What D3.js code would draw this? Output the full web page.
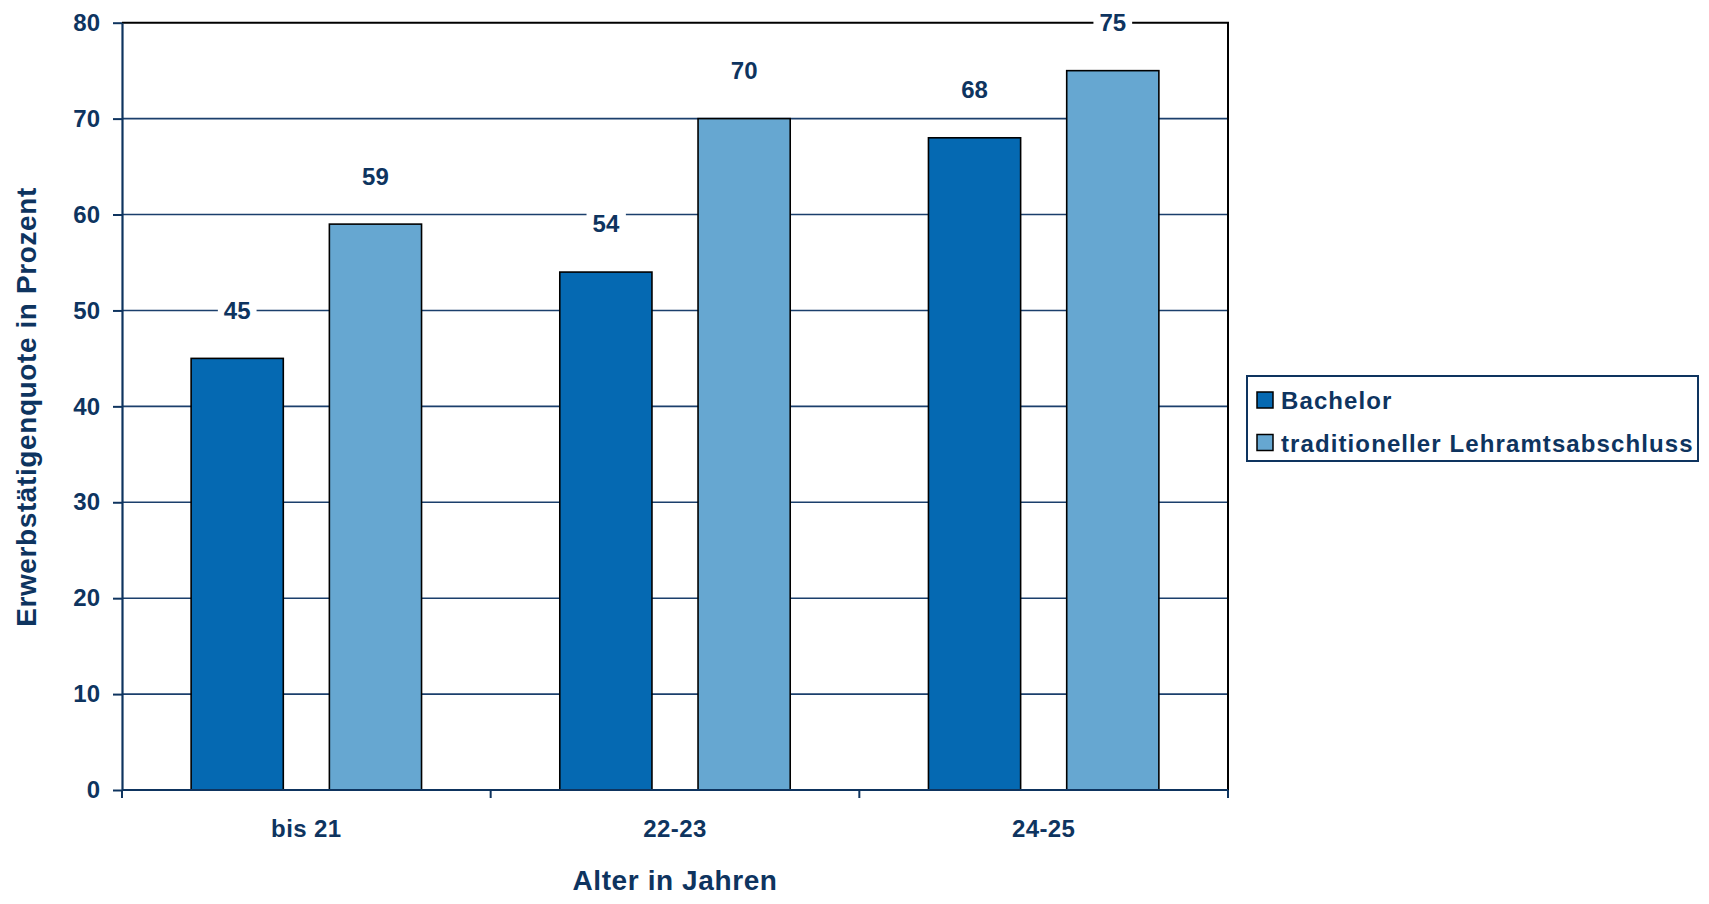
<!DOCTYPE html>
<html>
<head>
<meta charset="utf-8">
<script src="https://cdn.jsdelivr.net/npm/d3@7"></script>
<style>
    body { margin: 0; background: #fff; }
    svg text { font-family: "Liberation Sans", Arial, sans-serif; font-weight: bold; fill: #0e345f; }
</style>
</head>
<body>
<div id="chart"></div>
<script>
var categories = ['bis 21', '22-23', '24-25'];
var seriesNames = ['Bachelor', 'traditioneller Lehramtsabschluss'];
var bachelor = [45, 54, 68];
var traditionell = [59, 70, 75];
var yTicks = [0, 10, 20, 30, 40, 50, 60, 70, 80];

var colors = ['#0569b2', '#66a7d1'];
var navy = '#0e345f';
var W = 1709, H = 904;
var plot = { left: 122, right: 1228, top: 22.7, bottom: 790 };

var svg = d3.select('#chart').append('svg')
    .attr('width', W).attr('height', H);

var y = d3.scaleLinear().domain([0, 80]).range([plot.bottom, plot.top]);
var x0 = d3.scaleBand().domain(categories).range([plot.left, plot.right]);
var x1 = d3.scaleBand().domain(seriesNames).range([0, x0.bandwidth()])
    .paddingInner(1 / 3).paddingOuter(0.5);

// gridlines
svg.append('g').selectAll('line')
    .data(yTicks.filter(function(t) { return t > 0 && t < 80; }))
    .enter().append('line')
    .attr('x1', plot.left).attr('x2', plot.right)
    .attr('y1', function(d) { return y(d); }).attr('y2', function(d) { return y(d); })
    .attr('stroke', '#1b3f6c').attr('stroke-width', 1.6);

// top/right frame
svg.append('path')
    .attr('d', 'M' + plot.left + ',' + y(80) + 'H' + plot.right + 'V' + plot.bottom)
    .attr('fill', 'none').attr('stroke', '#000').attr('stroke-width', 2);

// bars
var rows = categories.map(function(c, i) {
    return { cat: c, vals: [bachelor[i], traditionell[i]] };
});

var groups = svg.append('g').selectAll('g')
    .data(rows).enter().append('g')
    .attr('transform', function(d) { return 'translate(' + x0(d.cat) + ',0)'; });

groups.selectAll('rect')
    .data(function(d) { return d.vals.map(function(v, j) { return { name: seriesNames[j], v: v, j: j }; }); })
    .enter().append('rect')
    .attr('x', function(d) { return x1(d.name); })
    .attr('width', x1.bandwidth())
    .attr('y', function(d) { return y(d.v); })
    .attr('height', function(d) { return y(0) - y(d.v); })
    .attr('fill', function(d) { return colors[d.j]; })
    .attr('stroke', '#000').attr('stroke-width', 1.6);

// value labels with white box behind
var labels = groups.selectAll('g.lbl')
    .data(function(d) { return d.vals.map(function(v, j) { return { name: seriesNames[j], v: v }; }); })
    .enter().append('g').attr('class', 'lbl')
    .attr('transform', function(d) {
        return 'translate(' + (x1(d.name) + x1.bandwidth() / 2) + ',' + (y(d.v) - 48) + ')';
    });
labels.append('rect').attr('fill', '#fff');
labels.append('text')
    .attr('text-anchor', 'middle').attr('dy', '0.35em')
    .style('font-size', '24px')
    .text(function(d) { return d.v; });
labels.each(function() {
    var g = d3.select(this);
    var bb = g.select('text').node().getBBox();
    g.select('rect').attr('x', bb.x - 6).attr('y', bb.y).attr('width', bb.width + 12).attr('height', bb.height);
});

// y axis
var yAxis = svg.append('g')
    .attr('transform', 'translate(' + plot.left + ',0)')
    .call(d3.axisLeft(y).tickValues(yTicks).tickSize(9).tickPadding(13).tickSizeOuter(0));
yAxis.select('.domain').attr('stroke', navy).attr('stroke-width', 2.2);
yAxis.selectAll('.tick line').attr('stroke', navy).attr('stroke-width', 2);
yAxis.selectAll('.tick text').style('font-size', '24px').attr('fill', navy);

// x axis
var xg = svg.append('g');
xg.append('line')
    .attr('x1', plot.left).attr('x2', plot.right)
    .attr('y1', plot.bottom).attr('y2', plot.bottom)
    .attr('stroke', navy).attr('stroke-width', 2.2);
var bounds = categories.map(function(c) { return x0(c); }).concat([plot.right]);
xg.selectAll('line.tk').data(bounds).enter().append('line').attr('class', 'tk')
    .attr('x1', function(d) { return d; }).attr('x2', function(d) { return d; })
    .attr('y1', plot.bottom).attr('y2', plot.bottom + 8)
    .attr('stroke', navy).attr('stroke-width', 2);
xg.selectAll('text').data(categories).enter().append('text')
    .attr('x', function(d) { return x0(d) + x0.bandwidth() / 2; })
    .attr('y', 837)
    .attr('text-anchor', 'middle')
    .style('font-size', '24px').style('letter-spacing', '0.4px')
    .text(function(d) { return d; });

// axis titles
svg.append('text')
    .attr('x', (plot.left + plot.right) / 2).attr('y', 890)
    .attr('text-anchor', 'middle')
    .style('font-size', '28px').style('letter-spacing', '0.6px')
    .text('Alter in Jahren');

svg.append('text')
    .attr('transform', 'translate(36,407) rotate(-90)')
    .attr('text-anchor', 'middle')
    .style('font-size', '28px').style('letter-spacing', '0.6px')
    .text('Erwerbstätigenquote in Prozent');

// legend
var leg = svg.append('g');
leg.append('rect')
    .attr('x', 1247).attr('y', 376).attr('width', 451).attr('height', 85)
    .attr('fill', '#fff').attr('stroke', navy).attr('stroke-width', 2);
var items = leg.selectAll('g.item').data(seriesNames).enter().append('g').attr('class', 'item')
    .attr('transform', function(d, i) { return 'translate(1257,' + (392 + i * 42.5) + ')'; });
items.append('rect')
    .attr('width', 16).attr('height', 16)
    .attr('fill', function(d, i) { return colors[i]; })
    .attr('stroke', '#000').attr('stroke-width', 1.5);
items.append('text')
    .attr('x', 24).attr('y', 17)
    .style('font-size', '24px').style('letter-spacing', '1.1px')
    .text(function(d) { return d; });
</script>
</body>
</html>
